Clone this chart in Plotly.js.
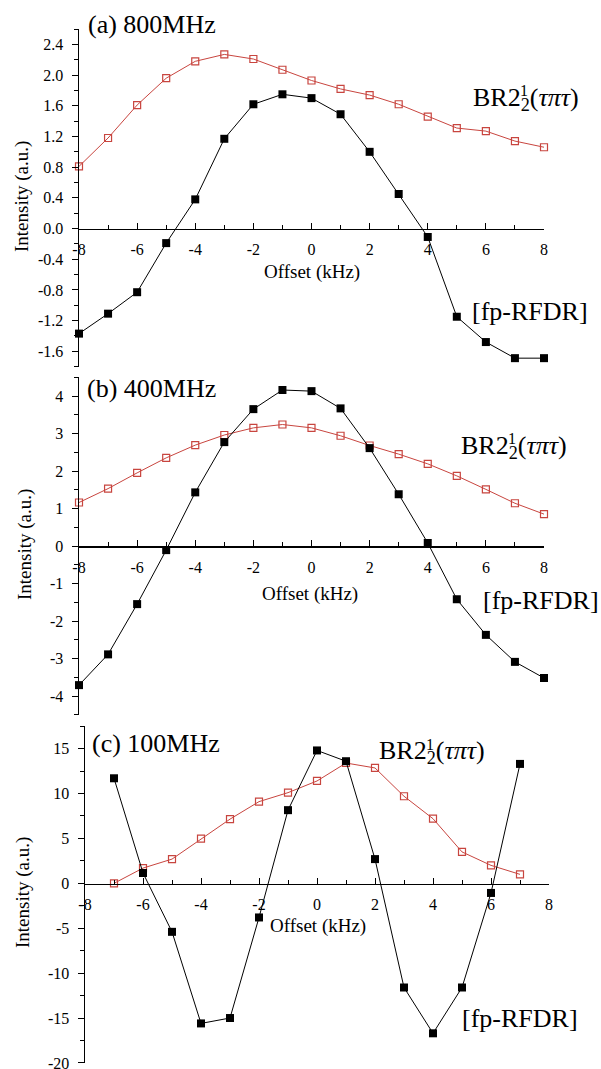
<!DOCTYPE html>
<html>
<head>
<meta charset="utf-8">
<script src="https://cdn.plot.ly/plotly-3.0.1.min.js"></script>
<style>html,body{margin:0;padding:0;background:#fff;}#chart{width:601px;height:1069px;}</style>
</head>
<body>
<div id="chart"></div>
<script>
// ---- data ----
var offsets = [-8,-7,-6,-5,-4,-3,-2,-1,0,1,2,3,4,5,6,7,8];
var offsetsC = [-7,-6,-5,-4,-3,-2,-1,0,1,2,3,4,5,6,7];

var br800 = [0.81,1.18,1.61,1.96,2.18,2.27,2.21,2.07,1.93,1.82,1.74,1.62,1.46,1.31,1.27,1.14,1.06];
var fp800 = [-1.37,-1.11,-0.83,-0.19,0.38,1.17,1.62,1.75,1.70,1.49,1.00,0.45,-0.11,-1.15,-1.48,-1.69,-1.69];

var br400 = [1.16,1.53,1.95,2.35,2.69,2.96,3.15,3.24,3.15,2.94,2.68,2.45,2.19,1.87,1.51,1.14,0.85];
var fp400 = [-3.71,-2.89,-1.55,-0.11,1.43,2.77,3.65,4.16,4.13,3.67,2.61,1.38,0.08,-1.42,-2.37,-3.09,-3.52];

var br100 = [0.0,1.7,2.7,4.97,7.15,9.1,10.1,11.4,13.4,12.85,9.7,7.2,3.5,2.0,1.0];
var fp100 = [11.7,1.15,-5.4,-15.6,-15.0,-3.8,8.15,14.8,13.6,2.7,-11.6,-16.7,-11.6,-1.07,13.3];

var xTickVals = [-8,-6,-4,-2,0,2,4,6,8];
var xTickText = ['-8','-6','-4','-2','0','2','4','6','8'];
var yTickValsA = [-1.6,-1.2,-0.8,-0.4,0,0.4,0.8,1.2,1.6,2.0,2.4];
var yTickTextA = ['-1.6','-1.2','-0.8','-0.4','0.0','0.4','0.8','1.2','1.6','2.0','2.4'];
var yTickValsB = [-4,-3,-2,-1,0,1,2,3,4];
var yTickTextB = ['-4','-3','-2','-1','0','1','2','3','4'];
var yTickValsC = [-20,-15,-10,-5,0,5,10,15];
var yTickTextC = ['-20','-15','-10','-5','0','5','10','15'];

var panelLabels = ['(a) 800MHz','(b) 400MHz','(c) 100MHz'];
var xTitle = 'Offset (kHz)';
var yTitle = 'Intensity (a.u.)';
var seriesBR = 'BR2<sub>2</sub>(<i>τπτ</i>)';
var seriesBRsup = '1';
var seriesFP = '[fp-RFDR]';

// ---- styling ----
var W = 601, H = 1069;
var FONT = 'Liberation Serif';
var RED = '#c8453f';
function px(x){return x/W;}
function py(y){return 1 - y/H;}

function brTrace(x,y,xa,ya){
  return {x:x,y:y,xaxis:xa,yaxis:ya,mode:'lines+markers',type:'scatter',
    line:{color:RED,width:1},
    marker:{symbol:'square-open',size:7,color:RED,line:{width:1.2,color:RED}},
    showlegend:false,cliponaxis:false};
}
function fpTrace(x,y,xa,ya){
  return {x:x,y:y,xaxis:xa,yaxis:ya,mode:'lines+markers',type:'scatter',
    line:{color:'#000',width:1},
    marker:{symbol:'square',size:8,color:'#000'},
    showlegend:false,cliponaxis:false};
}

var data = [
  brTrace(offsets,br800,'x','y'), fpTrace(offsets,fp800,'x','y'),
  brTrace(offsets,br400,'x2','y2'), fpTrace(offsets,fp400,'x2','y2'),
  brTrace(offsetsC,br100,'x3','y3'), fpTrace(offsetsC,fp100,'x3','y3')
];

function xAxis(domL,domR,pos){
  return {domain:[px(domL),px(domR)],range:[-8,8],anchor:'free',position:pos,
    showline:true,linecolor:'#000',linewidth:1.5,showgrid:false,zeroline:false,
    ticks:'inside',ticklen:6,tickwidth:1,tickcolor:'#000',
    tickmode:'array',tickvals:xTickVals,ticktext:xTickText,
    minor:{tickmode:'linear',tick0:-7,dtick:1,ticks:'inside',ticklen:4,tickwidth:1,tickcolor:'#000'},
    ticklabelstandoff:6,ticklabeloverflow:'allow',
    tickfont:{family:FONT,size:16,color:'#000'},
    fixedrange:true};
}
function yAxis(top,bot,range,vals,text,mdt,m0,xa){
  return {domain:[py(bot),py(top)],range:range,anchor:xa,
    showline:true,linecolor:'#000',linewidth:1.5,showgrid:false,zeroline:false,
    ticks:'outside',ticklen:6,tickwidth:1,tickcolor:'#000',
    tickmode:'array',tickvals:vals,ticktext:text,
    minor:{tickmode:'linear',tick0:m0,dtick:mdt,ticks:'outside',ticklen:4,tickwidth:1,tickcolor:'#000'},
    ticklabelstandoff:5,ticklabeloverflow:'allow',
    tickfont:{family:FONT,size:16,color:'#000'},
    fixedrange:true};
}

var annotations = [];
function addText(txt,x,y,size,anchor,angle){
  annotations.push({text:txt,xref:'paper',yref:'paper',x:px(x),y:py(y),
    xanchor:anchor||'left',yanchor:'middle',showarrow:false,textangle:angle||0,
    font:{family:FONT,size:size,color:'#000'}});
}
// axis titles
addText(yTitle,22,197,19,'center',-90);
addText(yTitle,25,545,19,'center',-90);
addText(yTitle,23,893,19,'center',-90);
addText(xTitle,312,272,19,'center');
addText(xTitle,310,594,19,'center');
addText(xTitle,318,926,19,'center');
// panel labels
addText(panelLabels[0],86,24,26);
addText(panelLabels[1],85,388,26);
addText(panelLabels[2],90,743,26);
// series labels
var brPos = [[471,99],[459,447],[377,752]];
brPos.forEach(function(p){
  addText(seriesBR,p[0],p[1],26);
  addText(seriesBRsup,p[0]+53,p[1]-8,16,'center');
});
addText(seriesFP,470,311,26);
addText(seriesFP,481,600,26);
addText(seriesFP,460,1018,26);

var layout = {
  width:W,height:H,margin:{l:0,r:0,t:0,b:0},
  paper_bgcolor:'#fff',plot_bgcolor:'rgba(0,0,0,0)',
  showlegend:false,
  font:{family:FONT,color:'#000'},
  xaxis: xAxis(79,544,py(228.5)),
  yaxis: yAxis(29.1,366.6,[-1.8,2.6],yTickValsA,yTickTextA,0.2,0,'x'),
  xaxis2: xAxis(79,544,py(546)),
  yaxis2: yAxis(377.25,714.75,[-4.5,4.5],yTickValsB,yTickTextB,0.5,0,'x2'),
  xaxis3: xAxis(85,549,py(883.7)),
  yaxis3: yAxis(726.2,1063.2,[-20.03,17.5],yTickValsC,yTickTextC,2.5,0,'x3'),
  annotations:annotations
};
Plotly.newPlot('chart',data,layout,{staticPlot:true,displayModeBar:false});
</script>
</body>
</html>
